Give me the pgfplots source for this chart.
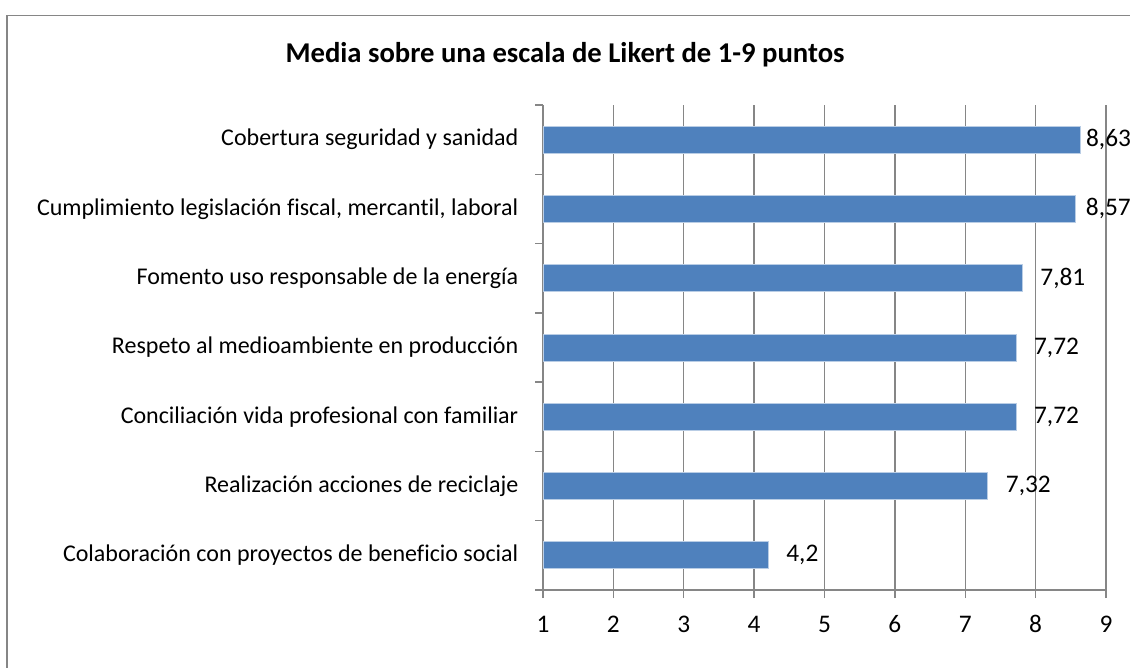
\documentclass[border=0pt]{standalone}
\usepackage{fontspec}
\setmainfont{Carlito}[Ligatures=NoCommon]
\usepackage{pgfplots}
\pgfplotsset{compat=1.18}

\definecolor{barblue}{RGB}{79,129,189}
\definecolor{baredge}{RGB}{185,205,229}
\definecolor{gridgray}{RGB}{134,134,134}
\definecolor{framegray}{RGB}{134,134,134}

\begin{document}
\begin{tikzpicture}
% page = 1130 x 667 px, 1 px = 0.75 pt
\useasboundingbox (0,0) rectangle (847.5pt,-500.25pt);
\draw[framegray, line width=1.1pt] (5.4pt,-501pt) -- (5.4pt,-11.6pt) -- (849pt,-11.6pt);
\node[anchor=base, font=\fontsize{21.5}{25}\selectfont\bfseries]
  at (423.75pt,-47.25pt) {Media sobre una escala de Likert de 1-9 puntos};

\begin{axis}[
  at={(407.25pt,-442.5pt)}, anchor=south west,
  scale only axis,
  width=422.25pt, height=363.75pt,
  xbar,
  bar width=20.25pt,
  xmin=1, xmax=9,
  ymin=-0.5, ymax=6.5,
  xtick={1,...,9},
  ytick={0,...,6},
  yticklabels={
    Colaboración con proyectos de beneficio social,
    Realización acciones de reciclaje,
    Conciliación vida profesional con familiar,
    Respeto al medioambiente en producción,
    Fomento uso responsable de la energía,
    {Cumplimiento legislación fiscal, mercantil, laboral},
    Cobertura seguridad y sanidad},
  extra y ticks={-0.5,0.5,1.5,2.5,3.5,4.5,5.5,6.5},
  extra y tick labels={,,,,,,,},
  extra y tick style={major tick length=6pt, ytick style={draw=gridgray, line width=1pt}},
  ytick style={draw=none},
  xtick style={draw=gridgray, line width=1pt},
  tick align=outside,
  major tick length=6pt,
  axis x line*=bottom,
  axis y line*=left,
  axis line style={draw=gridgray, line width=1pt},
  xmajorgrids=true,
  grid style={draw=gridgray, line width=1pt},
  yticklabel style={font=\fontsize{18}{21}\selectfont, xshift=-9pt},
  xticklabel style={font=\fontsize{19}{22}\selectfont, yshift=-15pt,
    text height=1.5ex, text depth=0.2ex},
  /pgf/number format/assume math mode=true,
  /pgf/number format/use comma,
  nodes near coords,
  nodes near coords style={font=\fontsize{19}{22}\selectfont, anchor=west,
    /pgf/number format/fixed, /pgf/number format/precision=2},
  clip=false,
]
% labels of the two longest bars sit closer to their bars, as in the original
\addplot[fill=barblue, draw=baredge, line width=0.6pt, bar shift=0pt,
  every node near coord/.append style={xshift=10pt}] coordinates {
  (4.2,0) (7.32,1) (7.72,2) (7.72,3) (7.81,4)
};
\addplot[fill=barblue, draw=baredge, line width=0.6pt, bar shift=0pt,
  every node near coord/.append style={xshift=4pt}] coordinates {
  (8.57,5)
};
\addplot[fill=barblue, draw=baredge, line width=0.6pt, bar shift=0pt,
  every node near coord/.append style={xshift=1pt}] coordinates {
  (8.63,6)
};
\end{axis}
\end{tikzpicture}
\end{document}
